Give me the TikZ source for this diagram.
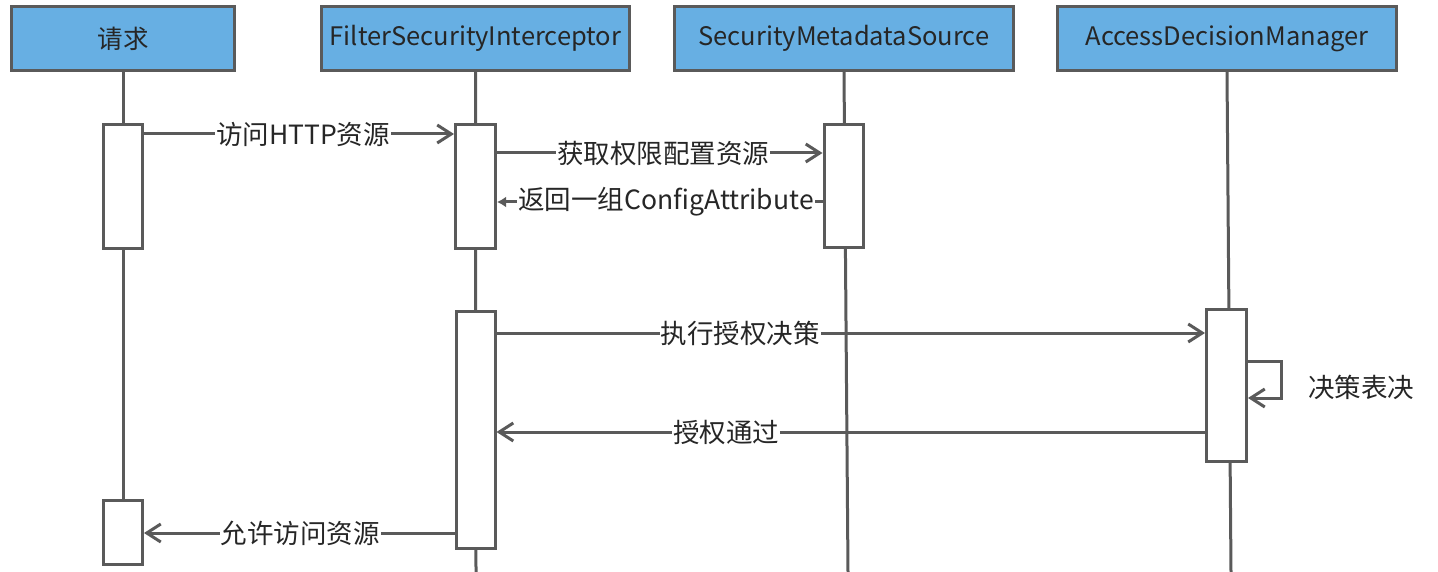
\documentclass[tikz,border=0pt]{standalone}
\usepackage{fontspec}
\setmainfont{Noto Sans CJK SC}
\usetikzlibrary{arrows.meta}
\definecolor{hdr}{RGB}{103,175,227}
\definecolor{ln}{RGB}{90,90,90}
\definecolor{tx}{RGB}{38,38,38}
\begin{document}
\begin{tikzpicture}[x=1pt,y=-1pt,
  hdrbox/.style={draw=ln,line width=3pt,fill=hdr,text=tx,font=\fontsize{25.5}{28}\selectfont,minimum height=64,inner sep=0pt},
  actbox/.style={draw=ln,line width=3pt,fill=white,inner sep=0pt},
  life/.style={draw=ln,line width=3pt},
  msg/.style={draw=ln,line width=3pt,-{Straight Barb[length=14pt,width=18pt,line width=3pt]}},
  ret/.style={draw=ln,line width=3pt,-{Latex[length=9pt,width=11pt]}},
  lbl/.style={fill=white,text=tx,font=\fontsize{26.5}{28}\selectfont,inner xsep=1pt,inner ysep=0pt},
  note/.style={text=tx,font=\fontsize{26.5}{28}\selectfont,inner sep=0pt}]
\useasboundingbox (0,0) rectangle (1438,572);

% headers
\node[hdrbox,minimum width=223] (h1) at (123,38.5) {请求};
\node[hdrbox,minimum width=308] (h2) at (475.5,38.5) {FilterSecurityInterceptor};
\node[hdrbox,minimum width=339] (h3) at (844,38.5) {SecurityMetadataSource};
\node[hdrbox,minimum width=339] (h4) at (1227,38.5) {AccessDecisionManager};

% lifeline ends
\coordinate (e1) at (123,540);
\coordinate (e2) at (476,572);
\coordinate (e3) at (848,572);
\coordinate (e4) at (1231,572);
\draw[life] (h1.south) -- (e1);
\draw[life] (h2.south) -- (e2);
\draw[life] (h3.south) -- (e3);
\draw[life] (h4.south) -- (e4);

% activation boxes
\node[actbox,minimum width=39,minimum height=124] (r1) at (123,186.5) {};
\node[actbox,minimum width=39,minimum height=64] (r2) at (123,532.5) {};
\node[actbox,minimum width=40,minimum height=124] (f1) at (475.5,186.5) {};
\node[actbox,minimum width=39,minimum height=237] (f2) at (475.5,430) {};
\node[actbox,minimum width=39,minimum height=123] (s1) at (843.5,186) {};
\node[actbox,minimum width=40,minimum height=152] (a1) at (1226.5,385.5) {};

% messages
\draw[msg] (r1.east |- 0,134) -- (f1.west |- 0,134);
\node[lbl] (l1) at (303,134) {访问HTTP资源};

\draw[msg] (f1.east |- 0,153) -- (s1.west |- 0,153);
\node[lbl] (l2) at (663,153) {获取权限配置资源};

\draw[ret] (s1.west |- 0,202) -- (f1.east |- 0,202);
\node[lbl] (l3) at (666,202) {返回一组ConfigAttribute};

\draw[msg] (f2.east |- 0,333) -- (a1.west |- 0,333);
\node[lbl] (l4) at (740,333) {执行授权决策};

\coordinate (c1) at (1281,361);
\coordinate (c2) at (1281,398);
\draw[msg] (a1.east |- c1) -- (c1) -- (c2) -- (a1.east |- c2);
\node[note] (l5) at (1361,387) {决策表决};

\draw[msg] (a1.west |- 0,432) -- (f2.east |- 0,432);
\node[lbl] (l6) at (726,432) {授权通过};

\draw[msg] (f2.west |- 0,533) -- (r2.east |- 0,533);
\node[lbl] (l7) at (300,533) {允许访问资源};
\end{tikzpicture}
\end{document}
